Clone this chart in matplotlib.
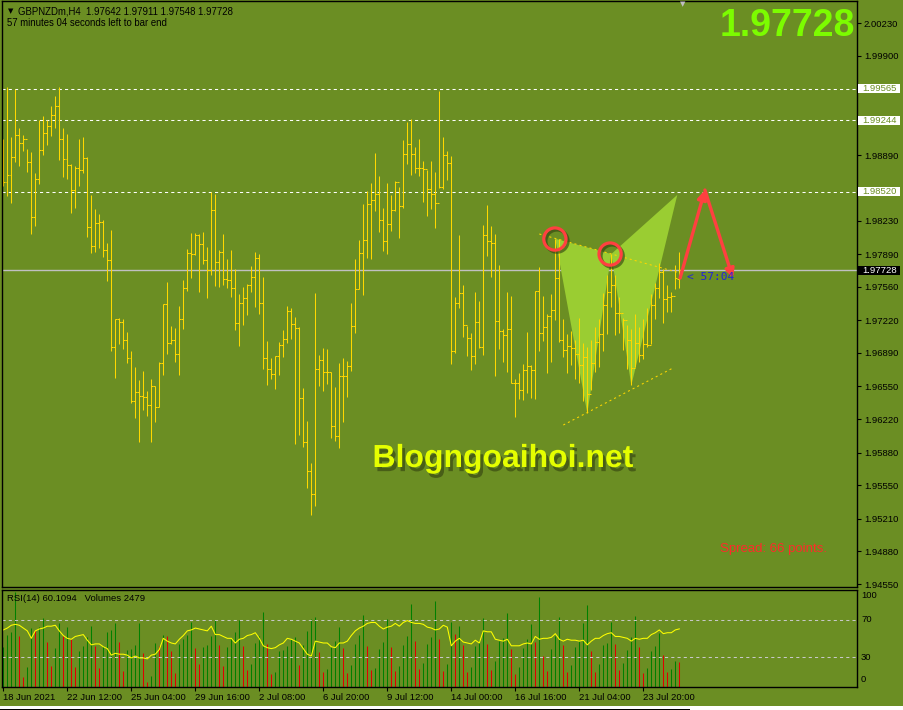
import matplotlib
matplotlib.use("Agg")
import matplotlib.pyplot as plt
import matplotlib.transforms as mtransforms
import matplotlib.patheffects as pe
from matplotlib.patches import Polygon, Rectangle

# ---- data (GBPNZDm, H4) ----
opens = [
    1.98900, 1.98617, 1.98688, 1.98870, 1.99093, 1.99019, 1.99052, 1.98823, 1.98266, 1.98647,
    1.98944, 1.99113, 1.99187, 1.99295, 1.99386, 1.99052, 1.98850, 1.98789, 1.98536, 1.98762,
    1.98742, 1.98860, 1.98165, 1.97972, 1.98202, 1.98219, 1.97928, 1.97827, 1.96950, 1.97236,
    1.97203, 1.97017, 1.96838, 1.96403, 1.96491, 1.96450, 1.96440, 1.96359, 1.96555, 1.96339,
    1.96784, 1.97382, 1.96987, 1.97017, 1.96875, 1.97236, 1.97544, 1.97898, 1.97888, 1.98080,
    1.97989, 1.97827, 1.97733, 1.98333, 1.97807, 1.97908, 1.97635, 1.97625, 1.97544, 1.97189,
    1.97392, 1.97449, 1.97574, 1.97655, 1.97851, 1.97392, 1.96835, 1.96730, 1.96673, 1.96855,
    1.96966, 1.97027, 1.97314, 1.97179, 1.97139, 1.96437, 1.95991, 1.95694, 1.95461, 1.96723,
    1.96815, 1.96693, 1.96696, 1.96146, 1.96045, 1.96653, 1.96656, 1.96757, 1.97159, 1.97537,
    1.97898, 1.98030, 1.98401, 1.98435, 1.98495, 1.98239, 1.98020, 1.98192, 1.98337, 1.98620,
    1.98374, 1.98900, 1.99008, 1.98900, 1.98759, 1.98759, 1.98748, 1.98546, 1.98495, 1.98408,
    1.98570, 1.98894, 1.98809, 1.96912, 1.97395, 1.97500, 1.97169, 1.97037, 1.96858, 1.97206,
    1.96953, 1.98084, 1.98020, 1.97999, 1.97216, 1.97115, 1.97071, 1.97132, 1.96582, 1.96582,
    1.96511, 1.96717, 1.96757, 1.96717, 1.97517, 1.97088, 1.97149, 1.97267, 1.97324, 1.97645,
    1.97017, 1.96916, 1.96963, 1.96943, 1.96876, 1.96765, 1.96852, 1.96470, 1.96784, 1.96997,
    1.97081, 1.97375, 1.97510, 1.97574, 1.97291, 1.97291, 1.97223, 1.97020, 1.96734, 1.96987,
    1.96869, 1.96977, 1.96970, 1.97375, 1.97550, 1.97706, 1.97436, 1.97459, 1.97466, 1.97642]

highs = [
    1.99056, 1.99586, 1.99076, 1.99559, 1.99167, 1.99096, 1.98954, 1.98924, 1.98711, 1.99245,
    1.99288, 1.99248, 1.99390, 1.99491, 1.99586, 1.99167, 1.99106, 1.98799, 1.98782, 1.99056,
    1.99076, 1.98873, 1.98489, 1.98347, 1.98296, 1.98235, 1.98003, 1.98134, 1.97236, 1.97243,
    1.97233, 1.97101, 1.96909, 1.96750, 1.96615, 1.96707, 1.96504, 1.96626, 1.96555, 1.96798,
    1.97382, 1.97608, 1.97162, 1.97142, 1.97365, 1.97628, 1.97942, 1.98104, 1.98104, 1.98094,
    1.98114, 1.97962, 1.98516, 1.98495, 1.97932, 1.98094, 1.97841, 1.97932, 1.97739, 1.97486,
    1.97557, 1.97587, 1.97770, 1.97911, 1.97891, 1.97658, 1.97010, 1.96838, 1.96862, 1.97000,
    1.97122, 1.97365, 1.97344, 1.97253, 1.97152, 1.96534, 1.96200, 1.95775, 1.97496, 1.96869,
    1.96940, 1.96929, 1.96696, 1.96545, 1.96788, 1.96838, 1.96808, 1.97395, 1.97841, 1.98030,
    1.98397, 1.98529, 1.98610, 1.98914, 1.98678, 1.98360, 1.98610, 1.98492, 1.98630, 1.98566,
    1.99042, 1.99231, 1.99258, 1.98975, 1.99052, 1.98833, 1.98745, 1.98833, 1.98721, 1.99542,
    1.99076, 1.98934, 1.98880, 1.97456, 1.98084, 1.97577, 1.97166, 1.97095, 1.97507, 1.97415,
    1.98185, 1.98387, 1.98178, 1.98094, 1.97780, 1.97132, 1.97507, 1.97469, 1.96622, 1.96683,
    1.96781, 1.97098, 1.96764, 1.97517, 1.97756, 1.97469, 1.97287, 1.97483, 1.98046, 1.98040,
    1.97236, 1.97078, 1.97108, 1.97020, 1.97240, 1.96987, 1.96953, 1.97020, 1.97155, 1.97236,
    1.97493, 1.97675, 1.97891, 1.97679, 1.97459, 1.97240, 1.97172, 1.97135, 1.97280, 1.97149,
    1.97233, 1.97348, 1.97483, 1.97594, 1.97804, 1.97743, 1.97577, 1.97503, 1.97776, 1.97911]

lows = [
    1.98580, 1.98482, 1.98411, 1.98826, 1.98786, 1.98938, 1.98725, 1.98097, 1.98178, 1.98603,
    1.98897, 1.98998, 1.99089, 1.99170, 1.98846, 1.98671, 1.98654, 1.98310, 1.98360, 1.98583,
    1.98715, 1.98067, 1.97905, 1.97915, 1.97955, 1.97864, 1.97621, 1.96912, 1.96639, 1.96983,
    1.96933, 1.96791, 1.96379, 1.96234, 1.95991, 1.96315, 1.96254, 1.95991, 1.96194, 1.96339,
    1.96670, 1.96882, 1.96977, 1.96801, 1.96670, 1.97135, 1.97520, 1.97652, 1.97878, 1.97510,
    1.97793, 1.97449, 1.97682, 1.97571, 1.97561, 1.97581, 1.97550, 1.97459, 1.97125, 1.96963,
    1.97176, 1.97277, 1.97510, 1.97358, 1.97287, 1.96730, 1.96568, 1.96629, 1.96528, 1.96670,
    1.96852, 1.96993, 1.97034, 1.95971, 1.96062, 1.95940, 1.95525, 1.95252, 1.95343, 1.96558,
    1.96507, 1.96578, 1.96032, 1.96001, 1.95930, 1.96194, 1.96447, 1.96710, 1.97095, 1.97540,
    1.97480, 1.97847, 1.97841, 1.98330, 1.98117, 1.97925, 1.97895, 1.98127, 1.98330, 1.98050,
    1.98354, 1.98799, 1.98688, 1.98711, 1.98684, 1.98421, 1.98279, 1.98350, 1.98158, 1.98556,
    1.98546, 1.98640, 1.96781, 1.96892, 1.97344, 1.97054, 1.96858, 1.96720, 1.96781, 1.96940,
    1.96872, 1.97874, 1.97658, 1.96659, 1.96933, 1.96798, 1.96693, 1.96582, 1.96244, 1.96423,
    1.96413, 1.96481, 1.96430, 1.96423, 1.96912, 1.97007, 1.96683, 1.96798, 1.97223, 1.96997,
    1.96852, 1.96686, 1.96771, 1.96622, 1.96589, 1.96400, 1.96278, 1.96514, 1.96696, 1.96750,
    1.96909, 1.97078, 1.97351, 1.97068, 1.97088, 1.96919, 1.96730, 1.96561, 1.96744, 1.96798,
    1.96832, 1.96953, 1.96980, 1.97236, 1.97442, 1.97189, 1.97301, 1.97301, 1.97540, 1.97548]

closes = [
    1.98617, 1.98688, 1.98870, 1.99093, 1.99019, 1.99052, 1.98823, 1.98266, 1.98647, 1.98944,
    1.99113, 1.99187, 1.99295, 1.99386, 1.99052, 1.98850, 1.98789, 1.98536, 1.98762, 1.98742,
    1.98860, 1.98165, 1.97972, 1.98202, 1.98219, 1.97928, 1.97827, 1.96950, 1.97236, 1.97203,
    1.97017, 1.96838, 1.96403, 1.96491, 1.96450, 1.96440, 1.96359, 1.96555, 1.96339, 1.96784,
    1.97382, 1.96987, 1.97017, 1.96875, 1.97236, 1.97544, 1.97898, 1.97888, 1.98080, 1.97989,
    1.97827, 1.97733, 1.98333, 1.97807, 1.97908, 1.97635, 1.97625, 1.97544, 1.97189, 1.97392,
    1.97449, 1.97574, 1.97655, 1.97851, 1.97392, 1.96835, 1.96730, 1.96673, 1.96855, 1.96966,
    1.97027, 1.97314, 1.97179, 1.97139, 1.96437, 1.95991, 1.95694, 1.95461, 1.96723, 1.96815,
    1.96693, 1.96696, 1.96146, 1.96045, 1.96653, 1.96656, 1.96757, 1.97159, 1.97537, 1.97898,
    1.98030, 1.98401, 1.98435, 1.98495, 1.98239, 1.98020, 1.98192, 1.98337, 1.98620, 1.98374,
    1.98900, 1.99008, 1.98900, 1.98759, 1.98759, 1.98748, 1.98546, 1.98495, 1.98408, 1.98570,
    1.98894, 1.98809, 1.96912, 1.97395, 1.97500, 1.97169, 1.97037, 1.96858, 1.97206, 1.96953,
    1.98084, 1.98020, 1.97999, 1.97216, 1.97115, 1.97071, 1.97132, 1.96582, 1.96582, 1.96511,
    1.96717, 1.96757, 1.96717, 1.97517, 1.97088, 1.97149, 1.97267, 1.97324, 1.97645, 1.97017,
    1.96916, 1.96963, 1.96943, 1.96876, 1.96765, 1.96852, 1.96470, 1.96784, 1.96997, 1.97081,
    1.97375, 1.97510, 1.97574, 1.97291, 1.97291, 1.97223, 1.97020, 1.96734, 1.96987, 1.96869,
    1.96977, 1.96970, 1.97375, 1.97550, 1.97706, 1.97436, 1.97459, 1.97466, 1.97645, 1.97728]

rsi = [
    59, 61, 64, 65, 64, 61, 58, 50, 58, 60,
    61, 63, 63, 64, 58, 53, 50, 49, 52, 53,
    54, 48, 43, 44, 44, 41, 39, 32, 34, 33,
    33, 32, 29, 31, 29, 29, 28, 32, 33, 38,
    50, 47, 45, 44, 49, 53, 58, 59, 61, 60,
    59, 58, 63, 54, 54, 52, 50, 50, 45, 49,
    50, 53, 54, 56, 50, 42, 40, 39, 40, 43,
    45, 50, 49, 47, 45, 39, 33, 31, 47, 46,
    45, 45, 41, 40, 45, 45, 47, 53, 58, 61,
    63, 66, 67, 67, 63, 60, 62, 63, 66, 63,
    67, 69, 67, 66, 66, 65, 62, 61, 59, 60,
    64, 62, 42, 47, 50, 46, 45, 44, 48, 45,
    58, 57, 57, 49, 48, 47, 49, 42, 42, 42,
    44, 45, 44, 52, 49, 50, 50, 51, 55, 49,
    47, 49, 48, 48, 47, 48, 43, 47, 50, 50,
    53, 55, 56, 52, 52, 51, 50, 47, 50, 49,
    50, 50, 54, 56, 59, 55, 56, 56, 59, 60.1094]

volumes = [
    3930, 5170, 5500, 9430, 5100, 930, 1930, 5830, 5700, 5930,
    6830, 4430, 2030, 3830, 6370, 5100, 6000, 4770, 1930, 3600,
    4030, 4930, 6100, 4030, 1830, 4100, 5430, 5630, 6330, 4430,
    1600, 3700, 3770, 4170, 6330, 3330, 500, 1100, 4330, 4100,
    5170, 5030, 3600, 1330, 4270, 4770, 5170, 6430, 3870, 2270,
    3930, 4170, 5100, 6670, 4170, 2100, 3930, 4830, 5430, 6670,
    4100, 1700, 2270, 4370, 5100, 7500, 4270, 1270, 1500, 3600,
    3700, 4030, 4770, 5000, 2170, 4200, 5600, 6800, 7000, 3500,
    1500, 1800, 4000, 4600, 6000, 3900, 1400, 2200, 4300, 5200,
    7200, 4100, 1700, 1900, 3800, 4500, 6800, 4000, 1600, 2100,
    4200, 5100, 8300, 4600, 1800, 2400, 4300, 5000, 8600, 4800,
    1600, 2300, 6500, 5300, 6100, 4200, 1500, 2000, 4100, 4700,
    6900, 4300, 1700, 2600, 4600, 4900, 7400, 3800, 1300, 2000,
    3900, 4800, 6300, 4500, 9000, 3100, 1600, 3800, 5100, 7000,
    4200, 1500, 2200, 4000, 4600, 6400, 8200, 3600, 1500, 2300,
    4200, 4400, 6500, 4300, 1700, 2400, 3700, 5000, 7100, 4000,
    1400, 1900, 3600, 4100, 5400, 3200, 1500, 1800, 2600, 2479]

date_labels = ["18 Jun 2021", "22 Jun 12:00", "25 Jun 04:00", "29 Jun 16:00",
               "2 Jul 08:00", "6 Jul 20:00", "9 Jul 12:00", "14 Jul 00:00",
               "16 Jul 16:00", "21 Jul 04:00", "23 Jul 20:00"]
date_bars = [0, 16, 32, 48, 64, 80, 96, 112, 128, 144, 160]

price_ticks = [2.00230, 1.99900, 1.98890, 1.98230, 1.97890,
               1.97560, 1.97220, 1.96890, 1.96550, 1.96220, 1.95880, 1.95550, 1.95210,
               1.94880, 1.94550]
levels = [1.99565, 1.99244, 1.98520]
last_price = 1.97728
rsi_levels = [70, 30]
rsi_labels = ["100", "70", "30", "0"]

# harmonic pattern points (bar index, price)
pat_x = [138, 146, 152, 157, 168.5]
pat_y = [1.98046, 1.96278, 1.97891, 1.96561, 1.98490]
top_line_x, top_line_y = [134, 169.2], [1.98094, 1.97699]
bot_line_x, bot_line_y = [140, 167.4], [1.96160, 1.96737]
arrow_x = [169.2, 175.4, 182.4]
arrow_y = [1.97648, 1.98539, 1.97648]
circle_x = [137.9, 151.7]
circle_y = [1.98043, 1.97891]

# ---- style ----
BG = "#6B8E23"
BAR = "#FFD700"
W, H = 904, 710
LW = 0.75
FONT = "Liberation Sans"


def rect(x0, y0, x1, y1):
    return [x0 / W, 1 - y1 / H, (x1 - x0) / W, (y1 - y0) / H]


fig = plt.figure(figsize=(W / 100, H / 100), dpi=100, facecolor=BG)
ax = fig.add_axes(rect(2, 1, 857, 587), facecolor=BG)
vax = fig.add_axes(rect(2, 589.5, 857, 686.5), facecolor=BG)
rax = fig.add_axes(rect(2, 589.5, 857, 686.5))
rax.patch.set_visible(False)

x0 = -0.325
x1 = x0 + 855 / 4
n = len(closes)
xs = list(range(n))

# main price panel
ax.set_xlim(x0, x1)
ax.set_ylim(1.94520, 2.00453)
for lv in levels:
    ax.axhline(lv, color="white", lw=LW, ls=(0, (3, 3)), zorder=1)
ax.axhline(last_price, color="#C0C0C0", lw=1, zorder=1)

# pattern triangles
ax.add_patch(Polygon(list(zip(pat_x[0:3], pat_y[0:3])), closed=True,
                     fc="#9ACD32", ec="none", zorder=1.5))
ax.add_patch(Polygon(list(zip(pat_x[2:5], pat_y[2:5])), closed=True,
                     fc="#9ACD32", ec="none", zorder=1.5))
ax.plot(top_line_x, top_line_y, color=BAR, lw=LW, ls=(0, (2, 3)), zorder=1.6)
ax.plot(bot_line_x, bot_line_y, color=BAR, lw=LW, ls=(0, (2, 3)), zorder=1.6)

# OHLC bars
ax.vlines(xs, lows, highs, color=BAR, lw=LW, zorder=2)
ax.hlines(opens, [x - 0.45 for x in xs], xs, color=BAR, lw=LW, zorder=2)
ax.hlines(closes, xs, [x + 0.45 for x in xs], color=BAR, lw=LW, zorder=2)

# circles and arrows
shadow = [pe.SimpleLineShadow(offset=(1.5, -1.5), shadow_color="#2F3F10", alpha=0.6), pe.Normal()]
ax.plot(circle_x, circle_y, "o", ms=16, mfc="none", mec="#FF4040", mew=2.3,
        zorder=4, path_effects=shadow)
for i in range(2):
    ax.annotate("", xy=(arrow_x[i + 1], arrow_y[i + 1]), xytext=(arrow_x[i], arrow_y[i]),
                arrowprops=dict(arrowstyle="-|>", color="#FF4040", lw=2.4,
                                mutation_scale=13, shrinkA=0, shrinkB=0), zorder=4)

ax.yaxis.tick_right()
ax.set_yticks(price_ticks)
ax.set_yticklabels([f"{t:.5f}" for t in price_ticks])
ax.tick_params(axis="y", labelsize=6.8, length=3, width=0.8, colors="black", pad=2)
ax.set_xticks([])
for lab in ax.get_yticklabels():
    lab.set_family(FONT)
for s in ax.spines.values():
    s.set_color("black")
    s.set_linewidth(1)

tr = mtransforms.blended_transform_factory(ax.transAxes, ax.transData)
box_h = 9 * 0.00010125
for lv, fc, tc in [(l, "white", BG) for l in levels] + [(last_price, "black", "white")]:
    ax.add_patch(Rectangle((1 + 1.5 / 855, lv - box_h / 2), 42 / 855, box_h, transform=tr,
                           fc=fc, ec="none", clip_on=False, zorder=5))
    ax.text(1 + 5 / 855, lv, f"{lv:.5f}", transform=tr, ha="left", va="center",
            fontsize=6.8, family=FONT, color=tc, clip_on=False, zorder=6)

# volumes panel (behind RSI)
vax.set_xlim(x0, x1)
vax.set_ylim(0, 9700)
vcols = ["#008000"] + ["#008000" if volumes[i] > volumes[i - 1] else "#E00000"
                       for i in range(1, n)]
vax.vlines(xs, 0, volumes, colors=vcols, lw=LW)
vax.set_xticks([])
vax.set_yticks([])
for s in vax.spines.values():
    s.set_visible(False)

# RSI
rax.set_xlim(x0, x1)
rax.set_ylim(-1.6, 102.3)
for lv in rsi_levels:
    rax.axhline(lv, color="#C8C8C8", lw=LW, ls=(0, (3, 3)))
rax.plot(xs, rsi, color="#FFFF00", lw=LW)
rax.set_yticks([])
rtr = mtransforms.blended_transform_factory(rax.transAxes, fig.transFigure)
for lab, ypx in zip(rsi_labels, [596, 620, 657, 679]):
    rax.text(1 + 4 / 855, 1 - ypx / H, lab, transform=rtr, ha="left", va="center",
             fontsize=6.8, family=FONT, color="black", clip_on=False)
rax.set_xticks(date_bars)
rax.set_xticklabels(date_labels)
rax.tick_params(axis="x", labelsize=6.8, length=3, width=0.8, colors="black", pad=2)
for lab in rax.get_xticklabels():
    lab.set_ha("left")
    lab.set_family(FONT)
for s in rax.spines.values():
    s.set_color("black")
    s.set_linewidth(1)
rax.text(5 / 855, 1 - 9 / 97, "RSI(14) 60.1094   Volumes 2479", transform=rax.transAxes,
         fontsize=6.8, family=FONT, color="black", va="center")

# texts on the chart
fig.text(8 / W, 1 - 11 / H, "\u25bc", fontsize=5, family="DejaVu Sans", color="black",
         va="center")
fig.text(18 / W, 1 - 11 / H, "GBPNZDm,H4  1.97642 1.97911 1.97548 1.97728",
         fontsize=6.9, family=FONT, color="black", va="center")
fig.text(7 / W, 1 - 23 / H, "57 minutes 04 seconds left to bar end",
         fontsize=6.9, family=FONT, color="black", va="center")
fig.text(683 / W, 1 - 4 / H, "\u25bc", fontsize=5, family="DejaVu Sans", color="#C0C0C0",
         ha="center", va="center")
fig.text(855 / W, 1 - 26 / H, "1.97728", fontsize=27, weight="bold", family=FONT,
         color="#7CFC00", ha="right", va="center")
fig.text(687 / W, 1 - 277 / H, "< 57:04", fontsize=8, family="DejaVu Sans Mono",
         color="#2222DD", va="center")
fig.text(720 / W, 1 - 549 / H, "Spread: 66 points.", fontsize=9.5, family=FONT,
         color="#FF2A2A", va="center")
fig.text(503 / W, 1 - 459 / H, "Blogngoaihoi.net", fontsize=23, weight="bold",
         family=FONT, color="#E5FF00", ha="center", va="center",
         path_effects=[pe.withSimplePatchShadow(offset=(2, -3), shadow_rgbFace="#3A4A12",
                                                alpha=0.7)])

# window chrome strip at the bottom
fig.patches.append(Rectangle((0, 0), 1, 4 / H, transform=fig.transFigure,
                             fc="white", ec="none"))
fig.patches.append(Rectangle((0, 0), 690 / W, 1.5 / H, transform=fig.transFigure,
                             fc="black", ec="none"))

fig.savefig("out.png", dpi=100, facecolor=BG)
